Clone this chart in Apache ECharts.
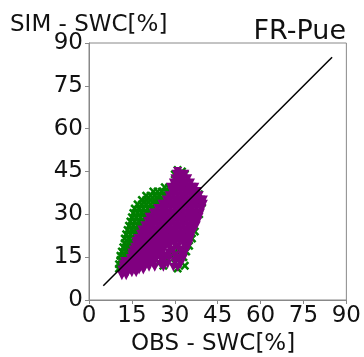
<!DOCTYPE html>
<html><head><meta charset="utf-8">
<script src="https://cdn.jsdelivr.net/npm/echarts@6/dist/echarts.min.js"></script>
<style>html,body{margin:0;padding:0;background:#fff}#c{width:364px;height:357px}</style>
</head><body><div id="c"></div>
<script>
const titleText = 'FR-Pue';
const xLabel = 'OBS - SWC[%]';
const yLabel = 'SIM - SWC[%]';
const axisMin = 0, axisMax = 90, axisStep = 15;
const oneToOne = [[5,5],[85,85]];

// series 1 (green crosses): [OBS, SIM]
const greenPoints = [
[10.5,11],[11.5,11],[10.5,12.5],[12,12.5],[11,14],[12.5,14],[13,14.5],[11,15.5],[12.5,15.5],[14,15.5],[13.5,16.5],
[11.5,17],[13,17],[14.5,17],[14,17.5],[12,18.5],[13.5,18.5],[15,18.5],[14.5,18.5],[15,19.5],[12.5,20],[14,20],[15.5,20],[15,20.5],
[12.5,21.5],[14,21.5],[15.5,21.5],[16.5,21.5],[13,23],[14.5,23],[16,23],[17,23],[16.5,23],
[13.5,24.5],[15,24.5],[16.5,24.5],[18,24.5],[17,24.5],[14,26],[15.5,26],[17,26],[18.5,26],[18,26],
[14.5,27.5],[16,27.5],[17.5,27.5],[19,27.5],[15,29],[16.5,29],[18,29],[19.5,29],[20.5,29],
[15.5,30.5],[17,30.5],[18.5,30.5],[20,30.5],[21.5,30.5],[21,30.5],[16,32],[17.5,32],[19,32],[20.5,32],[22,32],[23,32],[22.5,32],
[17,33.5],[18.5,33.5],[20,33.5],[21.5,33.5],[23,33.5],[24.5,33.5],[24,33.5],[18.5,35],[20,35],[21.5,35],[23,35],[24.5,35],[26,35],[25.5,35],
[20,36.5],[21.5,36.5],[23,36.5],[24.5,36.5],[26,36.5],[27.5,36.5],[26.5,36.5],[22.5,38],[24,38],[25.5,38],[27,38],[28.5,38],[27.5,38],
[26.5,39.5],[28,39.5],[29.5,39.5],[30.5,42],[30,44],[31,45.5],[32.5,45],[33.5,44],
[27,14],[30,13],[31.5,16],[33,15],[35,19],[31,17.5],[29,18],[28.5,16],[26,12],[24.5,13],[33.5,12],
[36,21.5],[37,24],[38.5,30],[39.5,34],[38.5,37],[31,11],[34,17]
];

// series 2 (purple triangles): [OBS, SIM]
const purplePoints = [
[11.5,8.5],[13,8.5],
[12,9.5],[13.5,9.5],[15,9.5],[16.5,9.5],
[11.5,10.5],[13,10.5],[14.5,10.5],[16,10.5],[17.5,10.5],[19,10.5],
[12,11.5],[13.5,11.5],[15,11.5],[16.5,11.5],[18,11.5],[19.5,11.5],[21,11.5],[23,11.5],[26,11.5],[29.5,11.5],[31,11.5],
[12,12.5],[13.5,12.5],[15,12.5],[16.5,12.5],[18,12.5],[19.5,12.5],[21,12.5],[22.5,12.5],[25,12.5],[27.5,12.5],[32,12.5],
[12.5,13.5],[14,13.5],[15.5,13.5],[17,13.5],[18.5,13.5],[20,13.5],[21.5,13.5],[23,13.5],[26,13.5],[30,13.5],
[14.5,14.5],[16,14.5],[17.5,14.5],[19,14.5],[20.5,14.5],[22,14.5],[23.5,14.5],[25,14.5],[28,14.5],[31.5,14.5],[33,14.5],
[15,15.5],[16.5,15.5],[18,15.5],[19.5,15.5],[21,15.5],[22.5,15.5],[24,15.5],[26.5,15.5],[30,15.5],[32.5,15.5],
[15,16.5],[16.5,16.5],[18,16.5],[19.5,16.5],[21,16.5],[22.5,16.5],[24,16.5],[25.5,16.5],[28,16.5],[33.5,16.5],
[15.5,17.5],[17,17.5],[18.5,17.5],[20,17.5],[21.5,17.5],[23,17.5],[24.5,17.5],[26,17.5],[29.5,17.5],[32,17.5],[34,17.5],
[16,18.5],[17.5,18.5],[19,18.5],[20.5,18.5],[22,18.5],[23.5,18.5],[25,18.5],[26.5,18.5],[28,18.5],[31,18.5],[34.5,18.5],
[16.5,19.5],[18,19.5],[19.5,19.5],[21,19.5],[22.5,19.5],[24,19.5],[25.5,19.5],[27,19.5],[28.5,19.5],[30,19.5],[33,19.5],[35,19.5],
[16.5,20.5],[18,20.5],[19.5,20.5],[21,20.5],[22.5,20.5],[24,20.5],[25.5,20.5],[27,20.5],[28.5,20.5],[30,20.5],[31.5,20.5],[33,20.5],[35,20.5],
[17,21.5],[18.5,21.5],[20,21.5],[21.5,21.5],[23,21.5],[24.5,21.5],[26,21.5],[27.5,21.5],[29,21.5],[30.5,21.5],[32,21.5],[33.5,21.5],[35.5,21.5],
[18,23],[19.5,23],[21,23],[22.5,23],[24,23],[25.5,23],[27,23],[28.5,23],[30,23],[31.5,23],[33,23],[34.5,23],[36,23],
[18.5,24.5],[20,24.5],[21.5,24.5],[23,24.5],[24.5,24.5],[26,24.5],[27.5,24.5],[29,24.5],[30.5,24.5],[32,24.5],[33.5,24.5],[35,24.5],[36.5,24.5],
[19.5,26],[21,26],[22.5,26],[24,26],[25.5,26],[27,26],[28.5,26],[30,26],[31.5,26],[33,26],[34.5,26],[36,26],[37.5,26],
[20.5,27.5],[22,27.5],[23.5,27.5],[25,27.5],[26.5,27.5],[28,27.5],[29.5,27.5],[31,27.5],[32.5,27.5],[34,27.5],[35.5,27.5],[37,27.5],[38,27.5],
[21,29],[22.5,29],[24,29],[25.5,29],[27,29],[28.5,29],[30,29],[31.5,29],[33,29],[34.5,29],[36,29],[37.5,29],[38.5,29],
[22.5,30.5],[24,30.5],[25.5,30.5],[27,30.5],[28.5,30.5],[30,30.5],[31.5,30.5],[33,30.5],[34.5,30.5],[36,30.5],[37.5,30.5],[39,30.5],
[24,32],[25.5,32],[27,32],[28.5,32],[30,32],[31.5,32],[33,32],[34.5,32],[36,32],[37.5,32],[39,32],[39.5,32],
[25.5,33.5],[27,33.5],[28.5,33.5],[30,33.5],[31.5,33.5],[33,33.5],[34.5,33.5],[36,33.5],[37.5,33.5],[39,33.5],[40,33.5],
[27,35],[28.5,35],[30,35],[31.5,35],[33,35],[34.5,35],[36,35],[37.5,35],[39,35],[40,35],
[28,36.5],[29.5,36.5],[31,36.5],[32.5,36.5],[34,36.5],[35.5,36.5],[37,36.5],[38.5,36.5],
[29,38],[30.5,38],[32,38],[33.5,38],[35,38],[36.5,38],[38,38],
[28.5,39.5],[30,39.5],[31.5,39.5],[33,39.5],[34.5,39.5],[36,39.5],[37,39.5],
[29.5,41],[31,41],[32.5,41],[34,41],[35.5,41],
[30,42.5],[31.5,42.5],[33,42.5],[34.5,42.5],
[30.5,44],[32,44],[33.5,44],[31,45]
];

const xShape = 'path://M0,2L2,0L5,3L8,0L10,2L7,5L10,8L8,10L5,7L2,10L0,8L3,5Z';
const font = 'DejaVu Sans';
const chart = echarts.init(document.getElementById('c'), null, {renderer:'canvas'});
const axisCommon = {
  type:'value', min:axisMin, max:axisMax, interval:axisStep,
  axisLine:{show:true, onZero:false, lineStyle:{color:'#888', width:1}},
  axisTick:{show:true, length:4, lineStyle:{color:'#888'}},
  splitLine:{show:false},
  axisLabel:{color:'#111', fontFamily:font, fontSize:23, margin:5}
};
chart.setOption({
  animation:false,
  grid:{left:89, top:43, right:17, bottom:57, show:true, borderColor:'#888', borderWidth:1, containLabel:false},
  xAxis:axisCommon,
  yAxis:Object.assign({}, axisCommon, {axisLabel:Object.assign({}, axisCommon.axisLabel, {margin:6})}),
  graphic:[
    {type:'text', right:18, top:18, style:{text:titleText, font:'27px "DejaVu Sans"', fill:'#111'}},
    {type:'text', left:10, top:14, style:{text:yLabel, font:'23px "DejaVu Sans"', fill:'#111'}},
    {type:'text', left:131, top:333, style:{text:xLabel, font:'23px "DejaVu Sans"', fill:'#111'}}
  ],
  series:[
    {type:'scatter', data:greenPoints, symbol:xShape, symbolSize:9, itemStyle:{color:'#008000', opacity:1, borderWidth:0}, z:2},
    {type:'scatter', data:purplePoints, symbol:'triangle', symbolRotate:180, symbolSize:9, itemStyle:{color:'#800080', opacity:1, borderWidth:0}, z:3},
    {type:'line', data:oneToOne, symbol:'none', lineStyle:{color:'#000', width:1.5}, z:4}
  ]
});
</script></body></html>
